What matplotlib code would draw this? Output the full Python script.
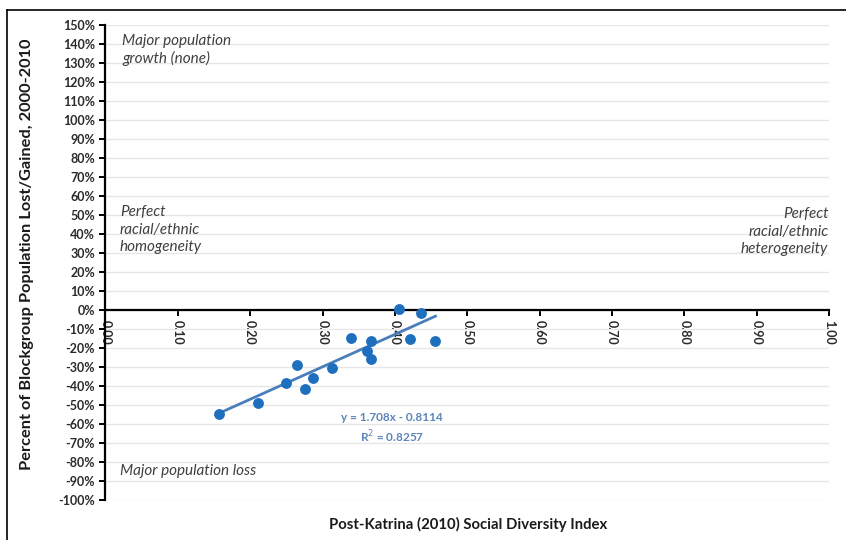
import matplotlib
matplotlib.use("Agg")
import matplotlib.pyplot as plt
from matplotlib.lines import Line2D
from matplotlib.ticker import FuncFormatter, MultipleLocator

plt.rcParams['font.family'] = ['Lato', 'DejaVu Sans']

# blockgroups: diversity index (2010) vs population change 2000-2010
diversity = [0.157, 0.211, 0.250, 0.265, 0.276, 0.287, 0.313, 0.339,
             0.362, 0.367, 0.367, 0.406, 0.421, 0.436, 0.456]
pop_change = [-0.545, -0.49, -0.386, -0.29, -0.417, -0.356, -0.307, -0.149,
              -0.216, -0.161, -0.26, 0.004, -0.153, -0.017, -0.161]

# linear trend as reported
slope = 1.708
intercept = -0.8114
r2 = 0.8257

x_ticks = [0.0, 0.1, 0.2, 0.3, 0.4, 0.5, 0.6, 0.7, 0.8, 0.9, 1.0]

fig = plt.figure(figsize=(8.46, 5.40), dpi=100)
ax = fig.add_axes([0.1247, 0.0741, 0.8553, 0.8796])

ax.set_xlim(0, 1.0)
ax.set_ylim(-1.0, 1.5)

# gridlines
ax.yaxis.set_major_locator(MultipleLocator(0.1))
ax.grid(axis='y', color='#e6e6e6', linewidth=1.0)
ax.set_axisbelow(True)

ax.spines['top'].set_visible(False)
ax.spines['right'].set_visible(False)
ax.spines['bottom'].set_position(('data', 0))
ax.spines['bottom'].set_linewidth(1.6)
ax.spines['left'].set_linewidth(1.6)

ax.set_xticks(x_ticks)
ax.set_xticklabels([f"{v:.2f}" for v in x_ticks], rotation=270)
ax.yaxis.set_major_formatter(FuncFormatter(lambda v, p: f"{v*100:.0f}%"))
ax.tick_params(axis='both', direction='out', length=4, width=1.4,
               labelsize=9, labelcolor='#2b2b2b')
ax.tick_params(axis='x', pad=3)
for lbl in ax.get_xticklabels() + ax.get_yticklabels():
    lbl.set_fontweight('bold')

# points and trend line
ax.scatter(diversity, pop_change, s=46, color='#1f6fbf', zorder=3)
xs = [min(diversity), max(diversity)]
ax.plot(xs, [slope * v + intercept for v in xs], color='#4a7ebb',
        linewidth=2.0, zorder=2)

ax.text(0.396, -0.535, f"y = {slope}x - {abs(intercept)}\nR$^2$ = {r2}",
        ha='center', va='top', fontsize=8.5, fontweight='bold',
        color='#5b84b8', linespacing=1.4)

# quadrant notes
note = dict(style='italic', fontsize=11, color='#404040', linespacing=1.3)
ax.text(0.023, 1.455, "Major population\ngrowth (none)", ha='left', va='top', **note)
ax.text(0.02, 0.55, "Perfect\nracial/ethnic\nhomogeneity", ha='left', va='top', **note)
ax.text(0.999, 0.54, "Perfect\nracial/ethnic\nheterogeneity", ha='right', va='top',
        multialignment='right', **note)
ax.text(0.02, -0.85, "Major population loss", ha='left', va='center', **note)

fig.text(0.032, 0.53, "Percent of Blockgroup Population Lost/Gained, 2000-2010",
         rotation=90, ha='center', va='center', fontsize=11.8,
         fontweight='bold', color='#1a1a1a')
fig.text(0.553, 0.015, "Post-Katrina (2010) Social Diversity Index",
         ha='center', va='bottom', fontsize=10.7, fontweight='bold',
         color='#1a1a1a')

# outer frame (top and left edges)
fig.add_artist(Line2D([7/846, 1.0], [1 - 10/540, 1 - 10/540],
                      color='black', linewidth=1.2))
fig.add_artist(Line2D([7/846, 7/846], [0.0, 1 - 10/540],
                      color='black', linewidth=1.2))

fig.savefig("out.png", dpi=100)
